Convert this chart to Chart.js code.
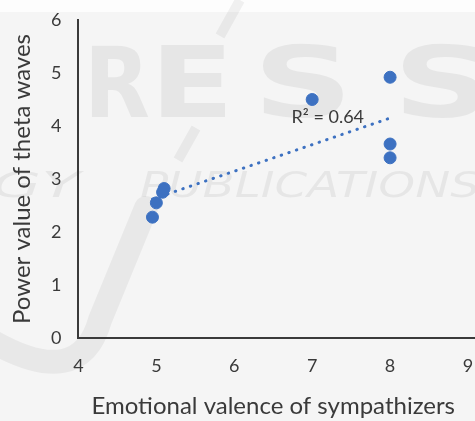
<!DOCTYPE html>
<html>
<head>
<meta charset="utf-8">
<script src="https://cdn.jsdelivr.net/npm/chart.js@4"></script>
<style>
  html, body { margin: 0; padding: 0; background: #f5f5f5; }
  #wrap { width: 475px; height: 421px; position: relative; }
</style>
</head>
<body>
<div id="wrap"><canvas id="chart"></canvas></div>
<script>
// ── DATA ──
const valence = [4.95, 5.0, 5.08, 5.1, 7, 8, 8, 8];
const thetaPower = [2.28, 2.55, 2.75, 2.82, 4.5, 4.92, 3.66, 3.4];
const trendX = [4.95, 8];
const trendY = [2.62, 4.15];
const xTicks = [4, 5, 6, 7, 8, 9];
const yTicks = [0, 1, 2, 3, 4, 5, 6];
const r2Label = 'R² = 0.64';

const BLUE = '#3d71c1';
const AXIS = '#3a3a3a';
const TEXT = '#3a3a3a';
const FONT = 'Lato, "Open Sans", sans-serif';

// text squeezed/stretched to a given width (watermark only)
function fitText(ctx, str, left, base, targetW) {
  const w = ctx.measureText(str).width;
  ctx.save();
  ctx.translate(left, base);
  ctx.scale(targetW / w, 1);
  ctx.fillText(str, 0, 0);
  ctx.restore();
}

function drawAxes(chart) {
  const { ctx, chartArea: a, width } = chart;
  ctx.save();
  ctx.globalAlpha = 1;
  ctx.globalCompositeOperation = 'source-over';
  ctx.fillStyle = AXIS;
  ctx.fillRect(Math.round(a.left) - 1, Math.round(a.top), 2, Math.round(a.bottom - a.top) + 1);
  ctx.fillRect(Math.round(a.left) - 1, Math.round(a.bottom) - 1, width - Math.round(a.left) + 1, 2);
  ctx.restore();
}

// ── FAINT PUBLISHER WATERMARK (background only) + AXES ──
const watermark = {
  id: 'watermark',
  beforeDraw(chart) {
    const { ctx, width } = chart;
    ctx.save();
    ctx.fillStyle = '#fdfdfd';
    ctx.fillRect(0, 0, width, 12);
    ctx.fillStyle = 'rgba(0,0,0,0.06)';
    ctx.font = 'bold 98px "DejaVu Sans", sans-serif';
    fitText(ctx, 'R', 84, 117, 66);
    fitText(ctx, 'E', 150, 117, 84);
    fitText(ctx, 'S', 253, 117, 100);
    fitText(ctx, 'S', 393, 117, 100);
    ctx.font = 'oblique 36px "DejaVu Sans", sans-serif';
    fitText(ctx, 'GY', -8, 197, 88);
    fitText(ctx, 'PUBLICATIONS', 140, 197, 340);
    ctx.strokeStyle = 'rgba(0,0,0,0.05)';
    ctx.lineWidth = 24;
    ctx.lineCap = 'round';
    ctx.beginPath();
    ctx.moveTo(-10, 340);
    ctx.quadraticCurveTo(80, 392, 100, 320);
    ctx.lineTo(146, 208);
    ctx.stroke();
    ctx.lineWidth = 10;
    ctx.lineCap = 'butt';
    ctx.beginPath();
    ctx.moveTo(240, 0);
    ctx.lineTo(220, 36);
    ctx.moveTo(196, 128);
    ctx.lineTo(178, 160);
    ctx.stroke();
    ctx.restore();
    drawAxes(chart);
  }
};

// ── R² LABEL ──
const overlay = {
  id: 'overlay',
  afterDraw(chart) {
    const { ctx, scales: { x, y } } = chart;
    drawAxes(chart);
    ctx.save();
    ctx.font = '18px ' + FONT;
    ctx.fillStyle = TEXT;
    ctx.textAlign = 'center';
    ctx.textBaseline = 'middle';
    ctx.fillText(r2Label, x.getPixelForValue(7.2), y.getPixelForValue(4.16));
    ctx.restore();
  }
};

new Chart(document.getElementById('chart'), {
  type: 'scatter',
  data: {
    datasets: [
      {
        data: valence.map((v, i) => ({ x: v, y: thetaPower[i] })),
        backgroundColor: BLUE,
        borderColor: BLUE,
        pointRadius: 6,
        pointHoverRadius: 6,
      },
      {
        type: 'line',
        data: trendX.map((v, i) => ({ x: v, y: trendY[i] })),
        borderColor: BLUE,
        borderWidth: 3,
        borderDash: [0.5, 7.5],
        borderCapStyle: 'round',
        pointRadius: 0,
        fill: false,
      },
    ],
  },
  options: {
    responsive: true,
    maintainAspectRatio: false,
    animation: false,
    layout: { padding: { top: 20, right: 6, left: 0, bottom: 2 } },
    plugins: { legend: { display: false }, tooltip: { enabled: false } },
    scales: {
      x: {
        type: 'linear', min: 4, max: 9,
        afterBuildTicks: s => { s.ticks = xTicks.map(v => ({ value: v })); },
        grid: { display: false, drawTicks: false },
        border: { color: AXIS, width: 2 },
        ticks: { color: TEXT, font: { family: FONT, size: 18, lineHeight: '56px' }, padding: 0 },
        title: { display: true, text: 'Emotional valence of sympathizers', color: TEXT,
          font: { family: FONT, size: 24, lineHeight: 1 }, padding: { top: 0, bottom: 1 } },
      },
      y: {
        type: 'linear', min: 0, max: 6,
        afterBuildTicks: s => { s.ticks = yTicks.map(v => ({ value: v })); },
        grid: { display: false, drawTicks: false },
        border: { color: AXIS, width: 2 },
        ticks: { color: TEXT, font: { family: FONT, size: 18, lineHeight: 0.1 }, padding: 17 },
        title: { display: true, text: 'Power value of theta waves', color: TEXT,
          font: { family: FONT, size: 24, lineHeight: 1 }, padding: { top: 10, bottom: 0 } },
      },
    },
  },
  plugins: [watermark, overlay],
});
</script>
</body>
</html>
